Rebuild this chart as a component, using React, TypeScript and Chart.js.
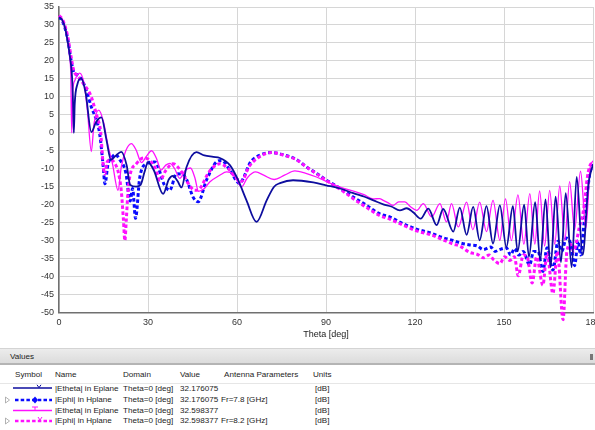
import React, { useEffect, useRef } from 'react';
import { Chart, registerables } from 'chart.js';

Chart.register(...registerables);

// ---------- axis ticks ----------
const thetaTicks = [0, 30, 60, 90, 120, 150, 180];
const dbMin = -50;
const dbMax = 35;
const dbStep = 5;

// ---------- |Etheta| in Eplane, 7.8 GHz (navy solid) ----------
const eTheta78Theta = [0, 1, 2, 3, 3.8, 4.4, 4.75, 5.0, 5.3, 6.2, 7.5, 9, 10.9, 12.5, 14.3, 16, 17.5, 19, 21, 22.8, 24, 26, 27.5, 28.8, 30, 32, 35.1, 37, 38.4, 40, 41.3, 43, 46.3, 49, 52, 54.2, 57.6, 60.4, 63.2, 66.6, 70, 72.5, 74.5, 78.9, 85.7, 90, 94.7, 99.2, 103, 106, 109.3, 112, 114.9, 117.2, 119.5, 121.9, 124.5, 127.3, 129.5, 132.9, 135.1, 137.4, 139.6, 141.8, 144.1, 146.3, 148.6, 150.8, 153, 154.6, 156.8, 158.4, 160.5, 162.2, 164, 165.7, 167.4, 169.2, 170.8, 172.8, 174.5, 176.5, 178.5, 180];
const eTheta78Db = [32.2, 31.5, 29.3, 25.0, 20.5, 15.5, 8, 0, 8, 13.5, 15.1, 11, 0.2, 3, 4.3, -2, -7.5, -6.5, -5.3, -9, -14.5, -15, -14.5, -11, -8.2, -10.5, -17, -13, -12, -13.5, -15.2, -9.5, -5.4, -6.3, -6.7, -7, -9, -13.2, -18.8, -24.8, -18.8, -15, -14, -13.2, -13.8, -14.6, -15.5, -16.8, -17.8, -18.8, -19.9, -20.5, -21.6, -21, -22.2, -23.9, -21.1, -25.7, -21.2, -27.5, -20.8, -28.4, -20.6, -29.9, -20.4, -30.8, -20.2, -31.8, -20.4, -33, -20, -34.5, -19.3, -35.5, -18.5, -37.4, -17.8, -36, -16.8, -37.4, -12.3, -34, -14, -8.8];

// ---------- |Ephi| in Hplane, 7.8 GHz (blue dashed) ----------
const ePhi78Theta = [0, 1, 2, 3, 4, 5, 6, 7.5, 9, 10.9, 12.6, 13.7, 14.8, 15.5, 16.5, 17.7, 19, 20.5, 22.5, 24, 24.8, 25.8, 27.2, 29.5, 32.3, 35.6, 37.3, 39.6, 41.5, 43, 45.2, 46.9, 49.7, 53.1, 54.8, 57.6, 60.9, 62.5, 64.3, 67, 71.6, 76, 80, 83.4, 87, 90.2, 95.8, 100, 103.7, 108, 111.5, 116, 120.5, 125, 129.5, 133, 135.1, 138.5, 141, 143, 145.5, 147, 148.5, 150.8, 152.2, 153.6, 155, 156.5, 158.6, 160, 161.5, 163.1, 164.5, 166.5, 168.2, 169.5, 171, 172.5, 173.8, 175, 175.8, 177, 177.8, 178.9, 180];
const ePhi78Db = [32.2, 31.3, 29.2, 25.8, 20.5, 16.8, 16.2, 15, 12.3, 7.2, 3.5, -0.2, -8.5, -14.2, -8.8, -7, -6, -7.5, -11, -19, -15.5, -23.8, -12.6, -8.6, -8.1, -14.6, -16, -11.4, -11.5, -13, -17.9, -19.2, -13.2, -8.1, -7.7, -10.4, -14.1, -12, -8.5, -6.5, -5.5, -6.2, -7.4, -9.5, -11.4, -13.2, -16, -18.3, -20.2, -22.5, -23.4, -25.3, -26.8, -27.8, -29.2, -30, -30.6, -31.2, -31.5, -32.5, -31.8, -33, -32.5, -32, -34, -32.2, -34, -33, -36.8, -33, -33, -38.6, -32, -38.2, -30.2, -33, -29.3, -31, -37, -30, -34, -25, -19, -11.5, -8.7];

// ---------- |Etheta| in Eplane, 8.2 GHz (magenta solid) ----------
const eTheta82Theta = [0, 1, 2, 3, 3.6, 3.95, 4.3, 4.6, 5.3, 7, 8.5, 9.6, 10.9, 11.8, 13.4, 15, 16.5, 18, 19.9, 21, 22.5, 24.4, 26, 27.8, 29.5, 31.2, 32.8, 34.4, 36, 37.4, 39, 40.7, 42.5, 44.3, 45.8, 47, 49, 50.8, 54.2, 56.5, 58.7, 60.2, 61.5, 63.5, 66.3, 69, 72.5, 76, 79.5, 83, 86.8, 90, 94.7, 100.3, 103, 105.9, 108, 109.3, 111, 112.6, 114.5, 116.6, 118.5, 120.6, 122.8, 125.6, 128.4, 130.6, 132.3, 134.6, 137.4, 139.5, 141.8, 144.1, 146.3, 148.6, 150.5, 152.5, 154.7, 156.7, 158.7, 160.4, 162, 163.7, 165.4, 167.1, 168.8, 170.5, 172.1, 173.8, 175.8, 177.6, 179, 180];
const eTheta82Db = [32.6, 31.8, 29.5, 25.2, 21, 17, 0, 11, 14.5, 16.6, 13.5, 6, -5.2, 2.5, 6.3, 3, -3.5, -8.5, -16, -9.5, -5, -3, -4.8, -8.3, -6.5, -5, -7, -10.4, -9, -8.5, -10, -12.7, -10.5, -9.8, -12.5, -16.3, -15.5, -13.7, -11.8, -10.9, -11.4, -13.5, -15.1, -12.5, -10.9, -11.8, -13, -11.8, -10.6, -11.2, -12.3, -13.5, -15.1, -16.5, -17.3, -18.4, -18.3, -18.8, -19.5, -20.2, -19.2, -19.2, -20.6, -21.6, -19.7, -23.4, -19.7, -24.8, -19.7, -26.2, -19.3, -27, -19.3, -27.5, -18.8, -29.9, -18.4, -30, -17.3, -31, -16.9, -31, -16.2, -31.5, -16, -31, -14.8, -30, -13.6, -27, -10.7, -26.5, -10, -7.8];

// ---------- |Ephi| in Hplane, 8.2 GHz (magenta dashed) ----------
const ePhi82Theta = [0, 1, 2, 3, 4, 5, 6, 7.5, 9, 10.9, 11.9, 13, 14, 14.8, 15.4, 16.3, 17.5, 18.8, 20, 21, 21.7, 22.2, 22.7, 23.2, 23.9, 26.1, 28.5, 30.5, 32.5, 34, 36, 38.4, 41, 43.5, 45.8, 47.5, 50.5, 54.2, 57, 59.8, 61.5, 64, 67, 71.6, 76, 80, 83.4, 87, 90.2, 95.8, 100, 103.7, 108, 111.5, 116, 120.5, 125, 129.5, 133, 135, 138.5, 141, 143, 145, 146.5, 148.6, 150.2, 152, 153.5, 154.8, 156.5, 157.8, 159.5, 161, 163.1, 164.5, 166.5, 168, 169.9, 171.2, 172.5, 173.5, 174.5, 175.4, 176.5, 177.2, 178, 178.8, 180];
const ePhi82Db = [32.6, 31.8, 29.8, 26.5, 21.5, 17.2, 16, 14.5, 12.8, 10, 7.2, 4, 0.5, -8, -11.5, -8, -7.5, -8.5, -11, -16.2, -24, -30, -24, -17, -12, -8.6, -7, -7.6, -10, -13.2, -10.5, -8.6, -10.5, -14, -16, -15.5, -11, -8.6, -10, -12.7, -13.5, -9.5, -7, -5.5, -6.3, -7.5, -9.5, -11.5, -13.3, -16.3, -18.8, -20.8, -23, -24, -25.7, -27.3, -28.3, -29.8, -31, -31.5, -33.3, -33.8, -34.8, -34, -35.3, -36.4, -34.5, -35.5, -34.5, -39.8, -34, -34.5, -41.8, -34.5, -42.4, -33.5, -44.7, -33, -52, -33, -31, -33, -30, -26.2, -23, -19, -13, -9.5, -8];

// ---------- values table ----------
const seriesNames = ['|Etheta| in Eplane', '|Ephi| in Hplane', '|Etheta| in Eplane', '|Ephi| in Hplane'];
const seriesDomains = ['Theta=0 [deg]', 'Theta=0 [deg]', 'Theta=0 [deg]', 'Theta=0 [deg]'];
const seriesValues = ['32.176075', '32.176075', '32.598377', '32.598377'];
const seriesParams = ['', 'Fr=7.8 [GHz]', '', 'Fr=8.2 [GHz]'];
const seriesUnits = ['[dB]', '[dB]', '[dB]', '[dB]'];

const NAVY = '#0d0d9e';
const BLUE = '#0a0aff';
const MAGENTA = '#ff10ff';
const FONT = '"Liberation Sans", Arial, sans-serif';

function toPoints(t: number[], v: number[]) {
  return t.map((x, i) => ({ x, y: v[i] }));
}

function Symbol({ kind }: { kind: number }) {
  const tri = <path d="M5.5,2 L9.5,5 L5.5,8 Z" fill="none" stroke="#a0a0a0" strokeWidth={0.8} />;
  if (kind === 0) {
    return (
      <svg width={56} height={11} style={{ position: 'absolute', left: 0, top: 0 }}>
        <line x1={13} y1={4} x2={52} y2={4} stroke={NAVY} strokeWidth={1.6} />
        <path d="M37,0.8 L39,3.6 L41,0.8" fill="none" stroke={NAVY} strokeWidth={1} />
      </svg>
    );
  }
  if (kind === 1) {
    return (
      <svg width={56} height={11} style={{ position: 'absolute', left: 0, top: 0 }}>
        {tri}
        <line x1={15} y1={5} x2={52} y2={5} stroke={BLUE} strokeWidth={2.6} strokeDasharray="3.5 2.2" />
        <path d="M35,1.5 L38,5 L35,8.5 L32,5 Z" fill={BLUE} />
      </svg>
    );
  }
  if (kind === 2) {
    return (
      <svg width={56} height={11} style={{ position: 'absolute', left: 0, top: 0 }}>
        <line x1={13} y1={4.5} x2={52} y2={4.5} stroke={MAGENTA} strokeWidth={1.4} />
        <path d="M32,1 L38,1 M35,1 L35,4.5" fill="none" stroke={MAGENTA} strokeWidth={1} />
      </svg>
    );
  }
  return (
    <svg width={56} height={11} style={{ position: 'absolute', left: 0, top: 0 }}>
      {tri}
      <line x1={15} y1={5} x2={52} y2={5} stroke={MAGENTA} strokeWidth={2.6} strokeDasharray="3.5 2.2" />
      <path d="M38,1 L40,4 L42,1" fill="none" stroke={MAGENTA} strokeWidth={1} />
    </svg>
  );
}

export default function App() {
  const canvasRef = useRef<HTMLCanvasElement | null>(null);

  useEffect(() => {
    const canvas = canvasRef.current;
    if (!canvas) return;
    const chart = new Chart(canvas, {
      type: 'line',
      data: {
        datasets: [
          {
            label: '|Etheta| in Eplane 7.8',
            data: toPoints(eTheta78Theta, eTheta78Db),
            borderColor: NAVY,
            borderWidth: 1.8,
            pointRadius: 0,
            cubicInterpolationMode: 'monotone',
            order: 1,
          },
          {
            label: '|Ephi| in Hplane 7.8',
            data: toPoints(ePhi78Theta, ePhi78Db),
            borderColor: BLUE,
            borderWidth: 3,
            borderDash: [3.5, 2.5],
            pointRadius: 0,
            cubicInterpolationMode: 'monotone',
            order: 4,
          },
          {
            label: '|Etheta| in Eplane 8.2',
            data: toPoints(eTheta82Theta, eTheta82Db),
            borderColor: MAGENTA,
            borderWidth: 1.3,
            pointRadius: 0,
            cubicInterpolationMode: 'monotone',
            order: 2,
          },
          {
            label: '|Ephi| in Hplane 8.2',
            data: toPoints(ePhi82Theta, ePhi82Db),
            borderColor: MAGENTA,
            borderWidth: 3,
            borderDash: [3.5, 2.5],
            pointRadius: 0,
            cubicInterpolationMode: 'monotone',
            clip: false,
            order: 3,
          },
        ],
      },
      options: {
        animation: false,
        responsive: false,
        maintainAspectRatio: false,
        layout: { padding: { top: 7, right: 2, left: 0, bottom: 0 } },
        plugins: { legend: { display: false }, tooltip: { enabled: false } },
        scales: {
          x: {
            type: 'linear',
            min: thetaTicks[0],
            max: thetaTicks[thetaTicks.length - 1],
            afterBuildTicks: (s: any) => {
              s.ticks = thetaTicks.map((v) => ({ value: v }));
            },
            ticks: {
              font: { family: FONT, size: 9 },
              color: '#333',
              padding: 5,
              maxRotation: 0,
              autoSkip: false,
            },
            grid: { color: '#d6d6d6', drawTicks: false },
            border: { color: '#707070', width: 1.5 },
            title: {
              display: true,
              text: 'Theta [deg]',
              font: { family: FONT, size: 9 },
              color: '#222',
              padding: { top: 0, bottom: 5 },
            },
            afterFit: (s: any) => {
              s.height = 32.5;
              s.paddingLeft = 0;
              s.paddingRight = 0;
            },
          },
          y: {
            type: 'linear',
            min: dbMin,
            max: dbMax,
            ticks: {
              stepSize: dbStep,
              font: { family: FONT, size: 9 },
              color: '#333',
              padding: 5,
            },
            grid: { color: '#d6d6d6', drawTicks: false },
            border: { color: '#707070', width: 1.5 },
            afterFit: (s: any) => {
              s.width = 59;
              s.paddingTop = 0;
              s.paddingBottom = 0;
            },
          },
        },
      },
    } as any);
    return () => chart.destroy();
  }, []);

  const textStyle: React.CSSProperties = {
    position: 'absolute',
    fontFamily: FONT,
    fontSize: '8.1px',
    lineHeight: '10px',
    color: '#1c1c1c',
    whiteSpace: 'nowrap',
  };
  const headerCols = [
    { label: 'Symbol', x: 15 },
    { label: 'Name', x: 55 },
    { label: 'Domain', x: 123 },
    { label: 'Value', x: 180 },
    { label: 'Antenna Parameters', x: 224 },
    { label: 'Units', x: 313 },
  ];

  return (
    <div
      style={{
        position: 'fixed',
        left: 0,
        top: 0,
        width: 595,
        height: 430,
        background: '#ffffff',
        overflow: 'hidden',
      }}
    >
      <canvas ref={canvasRef} width={595} height={345} style={{ position: 'absolute', left: 0, top: 0, width: 595, height: 345 }} />
      {/* Values panel */}
      <div
        style={{
          position: 'absolute',
          left: 0,
          top: 348,
          width: 595,
          height: 17,
          background: 'linear-gradient(#ececec, #dcdcdc)',
          borderTop: '1px solid #d4d4d4',
          borderBottom: '2px solid #b4b4b4',
          boxSizing: 'border-box',
        }}
      >
        <span style={{ ...textStyle, left: 10, top: 3 }}>Values</span>
        <div style={{ position: 'absolute', left: 590, top: 5, width: 3, height: 6, background: '#777' }} />
      </div>
      {headerCols.map((c) => (
        <span key={c.label} style={{ ...textStyle, left: c.x, top: 370 }}>
          {c.label}
        </span>
      ))}
      <div style={{ position: 'absolute', left: 0, top: 383, width: 595, height: 1, background: '#e6e6e6' }} />
      {seriesNames.map((name, i) => {
        const top = 384.3 + i * 10.6;
        return (
          <div key={i} style={{ position: 'absolute', left: 0, top, width: 595, height: 11 }}>
            <Symbol kind={i} />
            <span style={{ ...textStyle, left: 55, top: 0 }}>{name}</span>
            <span style={{ ...textStyle, left: 123, top: 0 }}>{seriesDomains[i]}</span>
            <span style={{ ...textStyle, left: 180, top: 0 }}>{seriesValues[i]}</span>
            <span style={{ ...textStyle, left: 221, top: 0 }}>{seriesParams[i]}</span>
            <span style={{ ...textStyle, left: 315, top: 0 }}>{seriesUnits[i]}</span>
          </div>
        );
      })}
    </div>
  );
}
